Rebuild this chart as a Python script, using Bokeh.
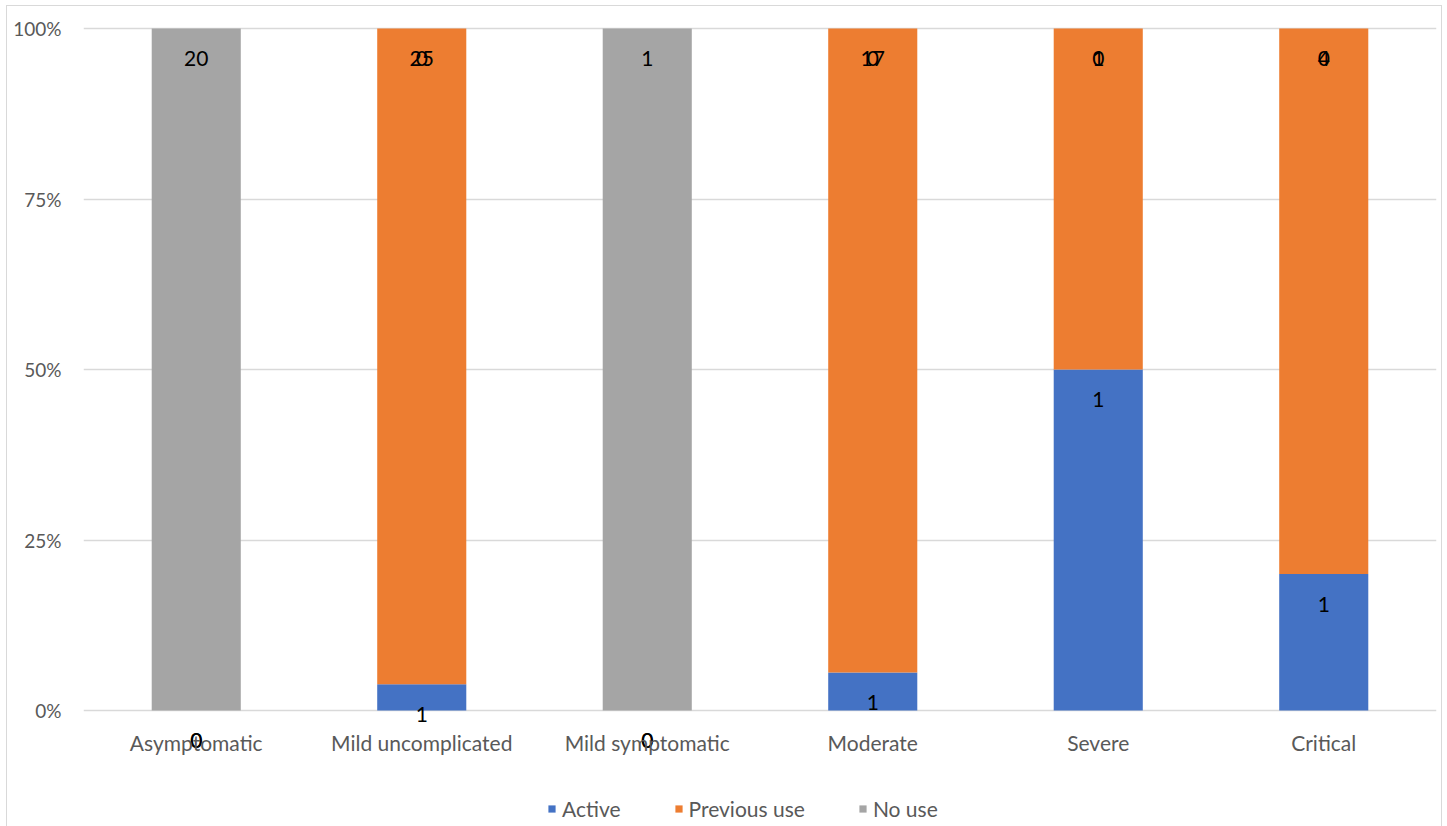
from bokeh.plotting import figure
from bokeh.models import (ColumnDataSource, FactorRange, Range1d, NumeralTickFormatter,
                          FixedTicker, LabelSet, Legend, LegendItem, InlineStyleSheet)
from bokeh.core.properties import value
from bokeh.embed import file_html
from bokeh.resources import INLINE

categories = ["Asymptomatic", "Mild uncomplicated", "Mild symptomatic", "Moderate", "Severe", "Critical"]
active = [0, 1, 0, 1, 1, 1]
previous_use = [0, 25, 0, 17, 1, 4]
no_use = [20, 0, 1, 0, 0, 0]
series_names = ["Active", "Previous use", "No use"]
colors = ["#4472C4", "#ED7D31", "#A5A5A5"]
y_ticks = [0, 0.25, 0.5, 0.75, 1.0]

FONT = "Lato"
W, H = 1447, 826
TOP, ZERO = 28, 710          # pixel rows of 100% and 0%
LEFT, RIGHT = 83, 1436
px_per_unit = ZERO - TOP

series = [active, previous_use, no_use]
totals = [sum(v) for v in zip(*series)]
pct = [[c / t for c, t in zip(s, totals)] for s in series]

data = {"cat": categories}
for name, vals in zip(series_names, pct):
    data[name] = vals
src = ColumnDataSource(data)

# frame extends down to the bottom of the canvas so that labels below 0% are not clipped
p = figure(x_range=FactorRange(factors=categories),
           y_range=Range1d(-(H - ZERO) / px_per_unit, 1 + TOP / px_per_unit),
           width=W, height=H, output_backend="svg", toolbar_location=None,
           min_border_left=LEFT, min_border_right=W - RIGHT, min_border_top=0, min_border_bottom=0)
p.outline_line_color = None
p.stylesheets = [InlineStyleSheet(css=""":host { position: relative; }
:host::after { content: ""; position: absolute; left: 6px; top: 5px; right: 5px; bottom: -10px;
  border: 1.5px solid #D9D9D9; pointer-events: none; z-index: 100; }""")]

rends = p.vbar_stack(series_names, x="cat", width=0.395, color=colors, source=src, line_color=None)

# data labels: inside end of each segment
cum = [0.0] * len(categories)
for name, vals, counts in zip(series_names, pct, series):
    tops = [c + v for c, v in zip(cum, vals)]
    cum = tops
    ls = ColumnDataSource({"cat": categories, "y": tops, "t": [str(c) for c in counts]})
    p.add_layout(LabelSet(x="cat", y="y", text="t", source=ls, y_offset=-30,
                          text_align="center", text_baseline="middle",
                          text_font=value(FONT), text_font_size="21px", text_color="#000000"))

# category labels
cl = ColumnDataSource({"cat": categories, "y": [0] * len(categories), "t": categories})
p.add_layout(LabelSet(x="cat", y="y", text="t", source=cl, y_offset=-32,
                      text_align="center", text_baseline="middle",
                      text_font=value(FONT), text_font_size="21px", text_color="#595959"))

p.xaxis.visible = False
p.yaxis.ticker = FixedTicker(ticks=y_ticks)
p.yaxis.formatter = NumeralTickFormatter(format="0%")
ax = p.yaxis[0]
ax.axis_line_color = None
ax.major_tick_line_color = None
ax.minor_tick_line_color = None
ax.major_label_text_font = FONT
ax.major_label_text_font_size = "19px"
ax.major_label_text_color = "#595959"
ax.major_label_standoff = 16
p.xgrid.grid_line_color = None
p.ygrid.grid_line_color = "#D9D9D9"
p.ygrid.grid_line_width = 1.5
p.ygrid.ticker = FixedTicker(ticks=y_ticks)

legend = Legend(items=[LegendItem(label=n, renderers=[r]) for n, r in zip(series_names, rends)],
                orientation="horizontal", location=(547 - LEFT, 5), padding=0, margin=0,
                spacing=53, label_standoff=6, glyph_width=9, glyph_height=9, label_height=20,
                label_text_font=FONT, label_text_font_size="21px", label_text_color="#595959",
                border_line_color=None, background_fill_alpha=0)
p.add_layout(legend)

open("out.html", "w").write(file_html(p, INLINE))
